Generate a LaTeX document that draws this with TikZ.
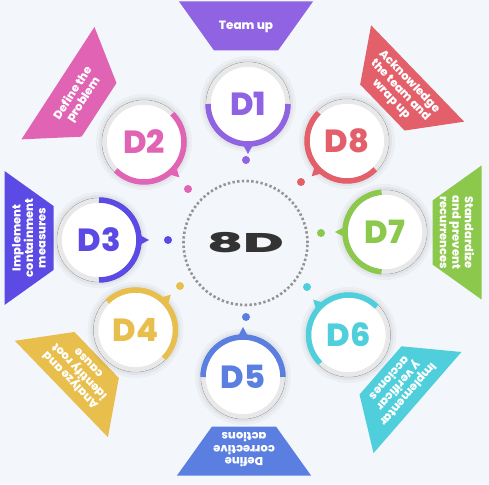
\documentclass[tikz,border=0pt]{standalone}
\usepackage{fontspec}
\setmainfont{Poppins}
\newfontfamily\heavyfont{Poppins ExtraBold}

\definecolor{bgcol}{HTML}{F3F7FC}
\definecolor{inkcol}{HTML}{333333}
\definecolor{cone}{HTML}{8F63E2}
\definecolor{ctwo}{HTML}{E063B4}
\definecolor{cthree}{HTML}{5B4AE4}
\definecolor{cfour}{HTML}{E8BF4C}
\definecolor{cfive}{HTML}{5B7FE0}
\definecolor{csix}{HTML}{4FCFDC}
\definecolor{cseven}{HTML}{8CC84B}
\definecolor{ceight}{HTML}{E3606B}

\tikzset{
	stepcircle/.style={circle, minimum size=84pt, inner sep=0pt, fill=white, draw=black!45, line width=0.5pt,
		font=\heavyfont\fontsize{32}{32}\selectfont,
		preaction={draw=black, opacity=0.03, line width=12pt},
		preaction={draw=black, opacity=0.04, line width=6pt}},
	ringbase/.style={draw=black!9, line width=4.5pt},
	ringarc/.style={line width=5.5pt},
	bannertext/.style={text=white, font=\heavyfont\fontsize{11.5}{12.5}\selectfont, align=center, inner sep=0pt},
	trail/.style={draw=black!42, line width=2.6pt, dash pattern=on 2.4pt off 2.3pt}
}

\begin{document}
\begin{tikzpicture}[x=1pt, y=1pt]

		\useasboundingbox (0,0) rectangle (489,484);
		\fill[bgcol] (0,0) rectangle (489,484);

		% centre
		\node[font=\heavyfont\fontsize{27}{27}\selectfont, text=inkcol] (hub) at (245.5,241) {\scalebox{2.05}[1]{8D}};
		\draw[trail] (hub.center) circle[radius=62];

		% D1
		\fill[cone, shift={(246,458)}, rotate=0] (-67,24.5) -- (67,24.5) -- (32,-24.5) -- (-32,-24.5) -- cycle;
		\node[bannertext, rotate=0, font=\heavyfont\fontsize{12}{12}\selectfont] (t1) at (246,457) {Team up};
		\node[stepcircle, text=cone] (d1) at (248,380) {D1};
		\draw[ringbase] (d1.center) circle[radius=39.5];
		\draw[ringarc, cone] (d1.center) ++(180:40) arc[start angle=180, end angle=360, radius=40];
		\fill[cone] (d1.center) +(262:40) -- +(270:50) -- +(278:40) -- cycle;
		\fill[cone] (246,324) circle[radius=4];

		% D2
		\fill[ctwo, shift={(78.5,387.5)}, rotate=57] (-67,24.5) -- (67,24.5) -- (32,-24.5) -- (-32,-24.5) -- cycle;
		\node[bannertext, rotate=57] (t2) at (78.5,387.5) {Define the\\problem};
		\node[stepcircle, text=ctwo] (d2) at (144,342) {D2};
		\draw[ringbase] (d2.center) circle[radius=39.5];
		\draw[ringarc, ctwo] (d2.center) ++(45:40) arc[start angle=45, end angle=-135, radius=40];
		\fill[ctwo] (d2.center) +(307:40) -- +(315:50) -- +(323:40) -- cycle;
		\fill[ctwo] (188,295) circle[radius=4];

		% D3
		\fill[cthree, shift={(29,246)}, rotate=90] (-67,24.5) -- (67,24.5) -- (32,-24.5) -- (-32,-24.5) -- cycle;
		\node[bannertext, rotate=90] (t3) at (29,246) {Implement\\containment\\measures};
		\node[stepcircle, text=cthree] (d3) at (99,244) {D3};
		\draw[ringbase] (d3.center) circle[radius=39.5];
		\draw[ringarc, cthree] (d3.center) ++(90:40) arc[start angle=90, end angle=-90, radius=40];
		\fill[cthree] (d3.center) +(-8:40) -- +(0:50) -- +(8:40) -- cycle;
		\fill[cthree] (168,244) circle[radius=4];

		% D4
		\fill[cfour, shift={(79,112)}, rotate=134] (-67,24.5) -- (67,24.5) -- (32,-24.5) -- (-32,-24.5) -- cycle;
		\node[bannertext, rotate=134] (t4) at (79,112) {Analyze and\\identify root\\cause};
		\node[stepcircle, text=cfour] (d4) at (135.5,154) {D4};
		\draw[ringbase] (d4.center) circle[radius=39.5];
		\draw[ringarc, cfour] (d4.center) ++(135:40) arc[start angle=135, end angle=-45, radius=40];
		\fill[cfour] (d4.center) +(37:40) -- +(45:50) -- +(53:40) -- cycle;
		\fill[cfour] (180,198) circle[radius=4];

		% D5
		\fill[cfive, shift={(244,33)}, rotate=180] (-67,24.5) -- (67,24.5) -- (32,-24.5) -- (-32,-24.5) -- cycle;
		\node[bannertext, rotate=180] (t5) at (244,34) {Define\\corrective\\actions};
		\node[stepcircle, text=cfive] (d5) at (243,107) {D5};
		\draw[ringbase] (d5.center) circle[radius=39.5];
		\draw[ringarc, cfive] (d5.center) ++(180:40) arc[start angle=180, end angle=0, radius=40];
		\fill[cfive] (d5.center) +(82:40) -- +(90:50) -- +(98:40) -- cycle;
		\fill[cfive] (246,167) circle[radius=4];

		% D6
		\fill[csix, shift={(399,97.5)}, rotate=229] (-67,24.5) -- (67,24.5) -- (32,-24.5) -- (-32,-24.5) -- cycle;
		\node[bannertext, rotate=229] (t6) at (399,97.5) {Implementar\\y verificar\\acciones};
		\node[stepcircle, text=csix] (d6) at (348.5,149) {D6};
		\draw[ringbase] (d6.center) circle[radius=39.5];
		\draw[ringarc, csix] (d6.center) ++(45:40) arc[start angle=45, end angle=225, radius=40];
		\fill[csix] (d6.center) +(127:40) -- +(135:50) -- +(143:40) -- cycle;
		\fill[csix] (307,197) circle[radius=4];

		% D7
		\fill[cseven, shift={(457,251.5)}, rotate=270] (-67,24.5) -- (67,24.5) -- (32,-24.5) -- (-32,-24.5) -- cycle;
		\node[bannertext, rotate=270] (t7) at (457,251.5) {Standardize\\and prevent\\recurrences};
		\node[stepcircle, text=cseven] (d7) at (385,252) {D7};
		\draw[ringbase] (d7.center) circle[radius=39.5];
		\draw[ringarc, cseven] (d7.center) ++(95:40) arc[start angle=95, end angle=265, radius=40];
		\fill[cseven] (d7.center) +(172:40) -- +(180:50) -- +(188:40) -- cycle;
		\fill[cseven] (321,251) circle[radius=4];

		% D8
		\fill[ceight, shift={(400,393.5)}, rotate=-46] (-67,24.5) -- (67,24.5) -- (32,-24.5) -- (-32,-24.5) -- cycle;
		\node[bannertext, rotate=-46] (t8) at (400,393.5) {Acknowledge\\the team and\\wrap up};
		\node[stepcircle, text=ceight] (d8) at (347,343) {D8};
		\draw[ringbase] (d8.center) circle[radius=39.5];
		\draw[ringarc, ceight] (d8.center) ++(135:40) arc[start angle=135, end angle=315, radius=40];
		\fill[ceight] (d8.center) +(217:40) -- +(225:50) -- +(233:40) -- cycle;
		\fill[ceight] (301,302) circle[radius=4];

	\end{tikzpicture}
\end{document}
